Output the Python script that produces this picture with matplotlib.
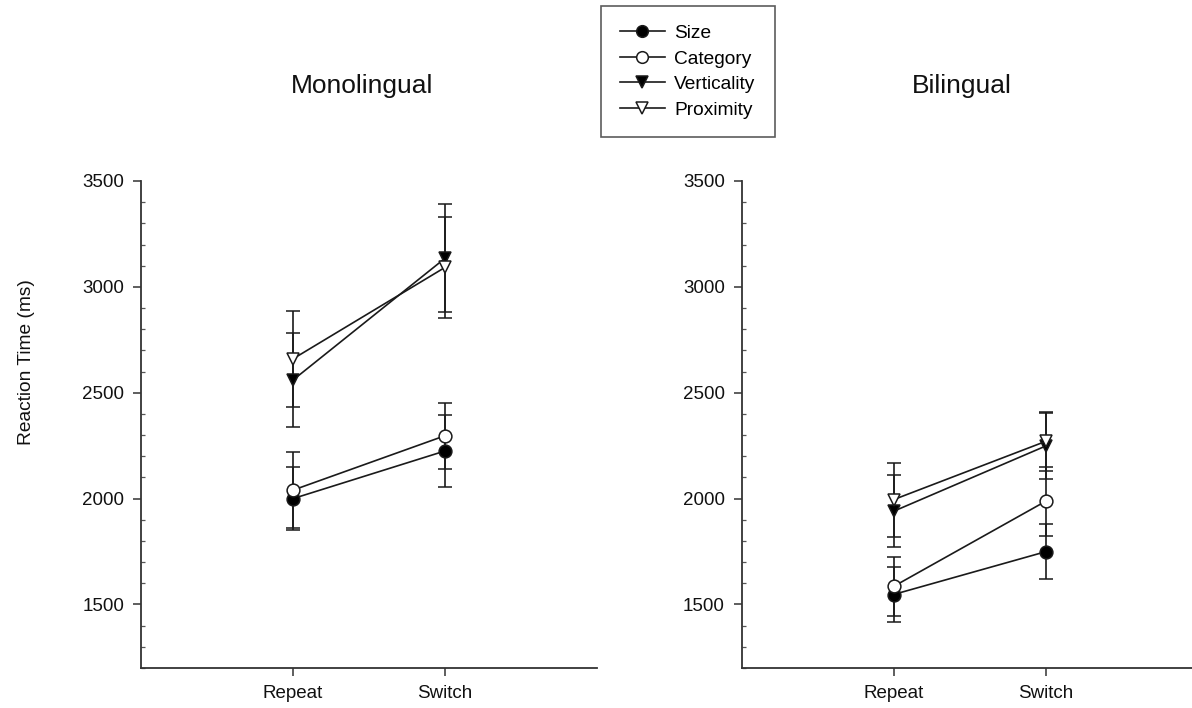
import matplotlib
matplotlib.use("Agg")
import matplotlib.pyplot as plt
from matplotlib.ticker import MultipleLocator
from matplotlib.lines import Line2D

plt.rcParams['font.family'] = ['Liberation Sans', 'DejaVu Sans']

conditions = ['Repeat', 'Switch']
series = ['Size', 'Category', 'Verticality', 'Proximity']

mono_size = [2000, 2225]
mono_size_err = [150, 168]
mono_category = [2040, 2297]
mono_category_err = [180, 155]
mono_verticality = [2560, 3135]
mono_verticality_err = [220, 255]
mono_proximity = [2660, 3092]
mono_proximity_err = [228, 240]

bi_size = [1547, 1749]
bi_size_err = [130, 130]
bi_category = [1585, 1987]
bi_category_err = [140, 163]
bi_verticality = [1940, 2248]
bi_verticality_err = [170, 155]
bi_proximity = [1995, 2270]
bi_proximity_err = [175, 140]

panel_titles = ['Monolingual', 'Bilingual']
ylabel = 'Reaction Time (ms)'

styles = {
    'Size': dict(marker='o', mfc='black'),
    'Category': dict(marker='o', mfc='white'),
    'Verticality': dict(marker='v', mfc='black'),
    'Proximity': dict(marker='v', mfc='white'),
}

INK = '#1a1a1a'
W, H = 1192, 708
fig = plt.figure(figsize=(W / 100, H / 100), dpi=100)

panels = [
    (141, [(mono_size, mono_size_err), (mono_category, mono_category_err),
           (mono_verticality, mono_verticality_err), (mono_proximity, mono_proximity_err)]),
    (741.5, [(bi_size, bi_size_err), (bi_category, bi_category_err),
             (bi_verticality, bi_verticality_err), (bi_proximity, bi_proximity_err)]),
]

x = [1, 2]
handles = []
for pi, (left_px, data) in enumerate(panels):
    ax = fig.add_axes([left_px / W, (H - 668) / H, 456 / W, (668 - 181) / H])
    for name, (vals, errs) in zip(series, data):
        st = styles[name]
        ax.errorbar(x, vals, yerr=errs, color=INK, lw=1.2, elinewidth=1.2,
                    capsize=5.3, capthick=1.2, marker=st['marker'],
                    mfc=st['mfc'], mec=INK, mew=1.1, ms=9.2, zorder=3)
        if pi == 0:
            handles.append(Line2D([], [], color=INK, lw=1.2, marker=st['marker'],
                                  mfc=st['mfc'], mec=INK, mew=1.1, ms=8.4))
    ax.set_xlim(0, 3)
    ax.set_ylim(1200, 3500)
    ax.set_xticks(x)
    ax.set_xticklabels(conditions)
    ax.set_yticks([1500, 2000, 2500, 3000, 3500])
    ax.yaxis.set_minor_locator(MultipleLocator(100))
    for s in ['top', 'right']:
        ax.spines[s].set_visible(False)
    for s in ['left', 'bottom']:
        ax.spines[s].set_color('#333333')
        ax.spines[s].set_linewidth(1.3)
    ax.tick_params(axis='both', which='major', direction='out', length=5.5,
                   width=1.1, color='#333333', labelsize=13.5, pad=6.5,
                   labelcolor='#111111')
    ax.tick_params(axis='y', which='minor', direction='in', length=3,
                   width=0.9, color='#555555')
    ax.tick_params(axis='x', which='minor', bottom=False)

fig.text(362.3 / W, (H - 93) / H, panel_titles[0], ha='center', va='baseline',
         fontsize=19, color='#111111')
fig.text(961.7 / W, (H - 93) / H, panel_titles[1], ha='center', va='baseline',
         fontsize=19, color='#111111')
fig.text(27 / W, (H - 362) / H, ylabel, rotation=90, ha='center', va='center',
         fontsize=13.8, color='#111111')

leg = fig.legend(handles, series, loc='upper left',
                 bbox_to_anchor=(601 / W, 1 - 6 / H), bbox_transform=fig.transFigure,
                 borderaxespad=0, frameon=True, fancybox=False, edgecolor='#333333',
                 fontsize=13.8, handlelength=2.35, handletextpad=0.5,
                 labelspacing=0.42, borderpad=0.98)
leg.get_frame().set_linewidth(1.2)

fig.savefig('out.png', dpi=100)
